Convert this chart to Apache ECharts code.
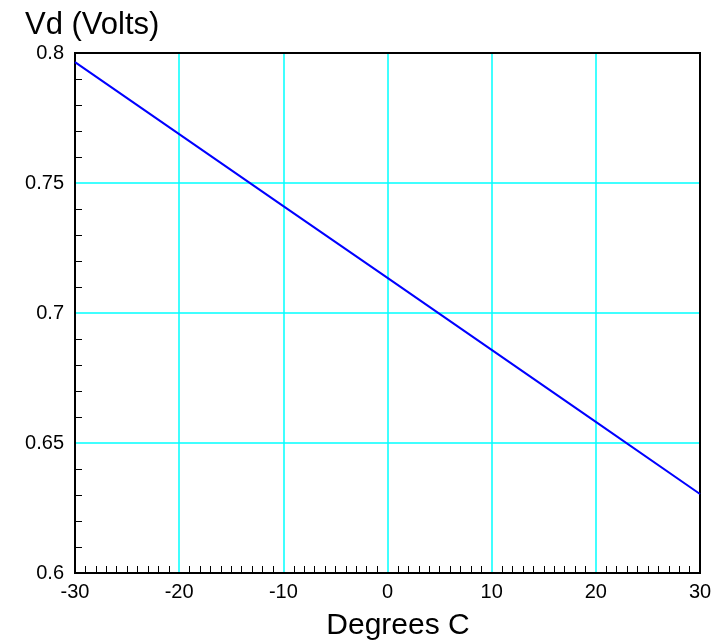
<!DOCTYPE html>
<html>
<head>
<meta charset="utf-8">
<script src="https://cdn.jsdelivr.net/npm/echarts@6/dist/echarts.min.js"></script>
<style>
html,body{margin:0;padding:0;background:#fff;}
#c{width:723px;height:641px;}
</style>
</head>
<body>
<div id="c"></div>
<script>
const temperatures = [-30, -20, -10, 0, 10, 20, 30];
const voltages = [0.7965, 0.7688, 0.7411, 0.7135, 0.6858, 0.6581, 0.6304];
const yTitle = 'Vd (Volts)';
const xTitle = 'Degrees C';

const chart = echarts.init(document.getElementById('c'));
const font = 'Liberation Sans, Arial, Helvetica, sans-serif';
const gridCol = '#00ffff';
chart.setOption({
  animation: false,
  backgroundColor: '#fff',
  grid: {left: 75, right: 23, top: 53, bottom: 68, show: true, borderColor: '#000', borderWidth: 2, backgroundColor: 'transparent', z: 3},
  title: [
    {text: yTitle, left: 20, top: 5, textStyle: {fontFamily: font, fontSize: 31, fontWeight: 'normal', color: '#000'}},
    {text: xTitle, left: 393, textAlign: 'center', top: 606, textStyle: {fontFamily: font, fontSize: 30, fontWeight: 'normal', color: '#000'}}
  ],
  xAxis: {
    type: 'value', min: -30, max: 30, interval: 10,
    axisLine: {show: true, onZero: false, lineStyle: {color: '#000', width: 2}},
    axisTick: {show: false, inside: true},
    minorTick: {show: true, splitNumber: 10, length: 7, lineStyle: {color: '#000', width: 1}},
    axisLabel: {fontFamily: font, fontSize: 20, color: '#000', margin: 9},
    splitLine: {show: true, showMinLine: false, showMaxLine: false, lineStyle: {color: [gridCol], width: 1.5}}
  },
  yAxis: {
    type: 'value', min: 0.6, max: 0.8, interval: 0.05,
    axisLine: {show: true, onZero: false, lineStyle: {color: '#000', width: 2}},
    axisTick: {show: false, inside: true},
    minorTick: {show: true, splitNumber: 5, length: 7, lineStyle: {color: '#000', width: 1}},
    axisLabel: {fontFamily: font, fontSize: 20, color: '#000', margin: 11},
    splitLine: {show: true, showMinLine: false, showMaxLine: false, lineStyle: {color: [gridCol], width: 1.5}}
  },
  series: [{
    type: 'line',
    data: temperatures.map((t, i) => [t, voltages[i]]),
    showSymbol: false,
    lineStyle: {color: '#0000ff', width: 2},
    z: 5
  }]
});
</script>
</body>
</html>
